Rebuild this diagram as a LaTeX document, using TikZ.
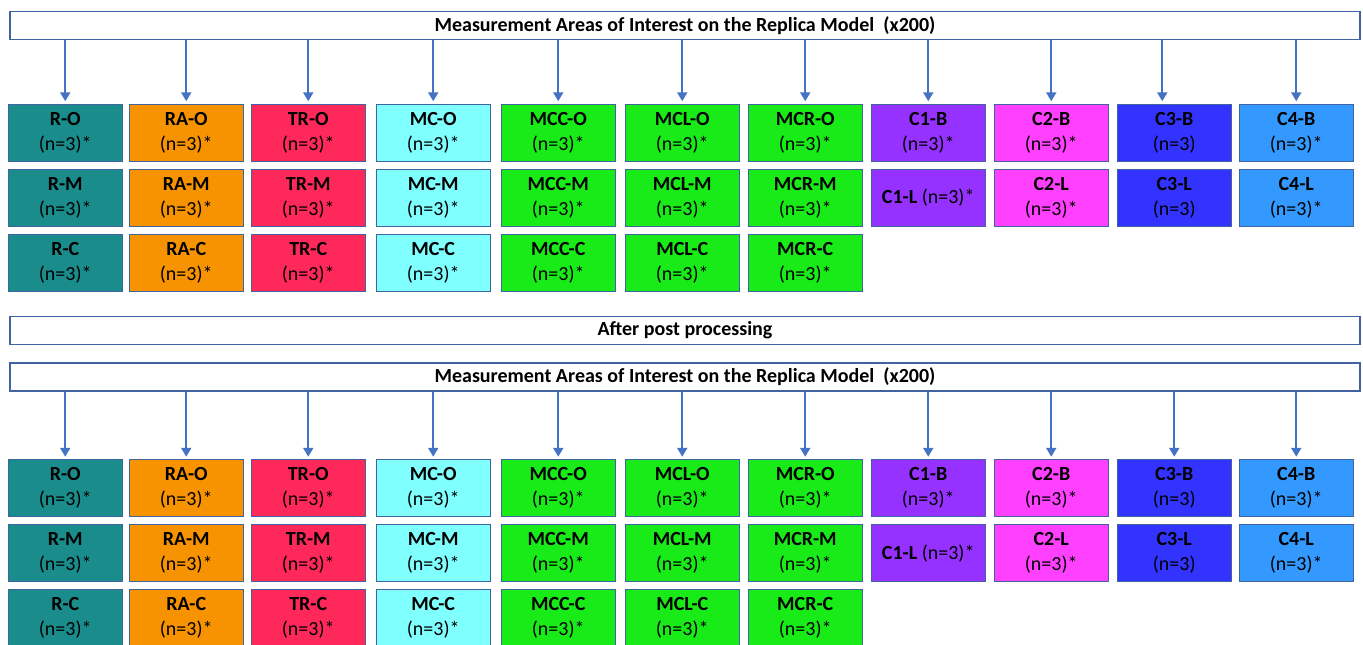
\documentclass[tikz,border=0pt]{standalone}
\usepackage{fontspec}
\setmainfont{Carlito}
\usetikzlibrary{positioning,arrows.meta}

\definecolor{boxedge}{RGB}{65,100,160}
\definecolor{arrowblue}{RGB}{68,114,196}
\definecolor{rteal}{RGB}{26,140,140}
\definecolor{raorange}{RGB}{247,147,0}
\definecolor{trred}{RGB}{255,40,90}
\definecolor{mccyan}{RGB}{128,255,255}
\definecolor{mgreen}{RGB}{25,235,25}
\definecolor{cpurple}{RGB}{150,50,255}
\definecolor{cpink}{RGB}{255,64,255}
\definecolor{cblue}{RGB}{51,51,255}
\definecolor{clightblue}{RGB}{51,153,255}

\tikzset{
  areabox/.style={draw=boxedge, line width=1.4pt, rectangle, minimum width=114pt, minimum height=57pt,
    inner sep=0pt, outer sep=0pt, align=center, font=\fontsize{20}{25}\selectfont},
  barbox/.style={draw=boxedge, line width=1.5pt, rectangle, fill=white, minimum width=1350pt, minimum height=28pt,
    inner sep=0pt, font=\fontsize{20}{25}\selectfont\bfseries},
  feed/.style={-{Triangle[length=9pt,width=10pt]}, line width=2.4pt, draw=arrowblue, shorten >=3pt}
}

\begin{document}
\begin{tikzpicture}[x=1pt,y=-1pt]
    \useasboundingbox (0,0) rectangle (1363,645);

    % before post processing
    \node[barbox] (head) at (685,25.5) {Measurement Areas of Interest on the Replica Model\ \ (x200)};
    \node[areabox, fill=rteal, anchor=north west] (ro) at ([xshift=-1pt,yshift=-64pt]head.south west) {\textbf{R-O}\\(n=3)*};
    \node[areabox, fill=rteal, below=8pt of ro] (rm) {\textbf{R-M}\\(n=3)*};
    \node[areabox, fill=rteal, below=8pt of rm] (rc) {\textbf{R-C}\\(n=3)*};
    \node[areabox, fill=raorange, right=7pt of ro] (rao) {\textbf{RA-O}\\(n=3)*};
    \node[areabox, fill=raorange, below=8pt of rao] (ram) {\textbf{RA-M}\\(n=3)*};
    \node[areabox, fill=raorange, below=8pt of ram] (rac) {\textbf{RA-C}\\(n=3)*};
    \node[areabox, fill=trred, right=8pt of rao] (tro) {\textbf{TR-O}\\(n=3)*};
    \node[areabox, fill=trred, below=8pt of tro] (trm) {\textbf{TR-M}\\(n=3)*};
    \node[areabox, fill=trred, below=8pt of trm] (trc) {\textbf{TR-C}\\(n=3)*};
    \node[areabox, fill=mccyan, right=11pt of tro] (mco) {\textbf{MC-O}\\(n=3)*};
    \node[areabox, fill=mccyan, below=8pt of mco] (mcm) {\textbf{MC-M}\\(n=3)*};
    \node[areabox, fill=mccyan, below=8pt of mcm] (mcc) {\textbf{MC-C}\\(n=3)*};
    \node[areabox, fill=mgreen, right=11pt of mco] (mcco) {\textbf{MCC-O}\\(n=3)*};
    \node[areabox, fill=mgreen, below=8pt of mcco] (mccm) {\textbf{MCC-M}\\(n=3)*};
    \node[areabox, fill=mgreen, below=8pt of mccm] (mccc) {\textbf{MCC-C}\\(n=3)*};
    \node[areabox, fill=mgreen, right=10pt of mcco] (mclo) {\textbf{MCL-O}\\(n=3)*};
    \node[areabox, fill=mgreen, below=8pt of mclo] (mclm) {\textbf{MCL-M}\\(n=3)*};
    \node[areabox, fill=mgreen, below=8pt of mclm] (mclc) {\textbf{MCL-C}\\(n=3)*};
    \node[areabox, fill=mgreen, right=9pt of mclo] (mcro) {\textbf{MCR-O}\\(n=3)*};
    \node[areabox, fill=mgreen, below=8pt of mcro] (mcrm) {\textbf{MCR-M}\\(n=3)*};
    \node[areabox, fill=mgreen, below=8pt of mcrm] (mcrc) {\textbf{MCR-C}\\(n=3)*};
    \node[areabox, fill=cpurple, right=9pt of mcro] (c1b) {\textbf{C1-B}\\(n=3)*};
    \node[areabox, fill=cpurple, below=8pt of c1b] (c1l) {\textbf{C1-L} (n=3)*};
    \node[areabox, fill=cpink, right=9pt of c1b] (c2b) {\textbf{C2-B}\\(n=3)*};
    \node[areabox, fill=cpink, below=8pt of c2b] (c2l) {\textbf{C2-L}\\(n=3)*};
    \node[areabox, fill=cblue, right=9pt of c2b] (c3b) {\textbf{C3-B}\\(n=3)};
    \node[areabox, fill=cblue, below=8pt of c3b] (c3l) {\textbf{C3-L}\\(n=3)};
    \node[areabox, fill=clightblue, right=8pt of c3b] (c4b) {\textbf{C4-B}\\(n=3)*};
    \node[areabox, fill=clightblue, below=8pt of c4b] (c4l) {\textbf{C4-L}\\(n=3)*};
    \coordinate (c3tip) at ([xshift=-12pt]c3b.north);

    \draw[feed] (head.south -| ro.north) -- (ro.north);
    \draw[feed] (head.south -| rao.north) -- (rao.north);
    \draw[feed] (head.south -| tro.north) -- (tro.north);
    \draw[feed] (head.south -| mco.north) -- (mco.north);
    \draw[feed] (head.south -| mcco.north) -- (mcco.north);
    \draw[feed] (head.south -| mclo.north) -- (mclo.north);
    \draw[feed] (head.south -| mcro.north) -- (mcro.north);
    \draw[feed] (head.south -| c1b.north) -- (c1b.north);
    \draw[feed] (head.south -| c2b.north) -- (c2b.north);
    \draw[feed] (head.south -| c3tip) -- (c3tip);
    \draw[feed] (head.south -| c4b.north) -- (c4b.north);

    \node[barbox] (post) at (685,330.5) {After post processing};

    % after post processing
    \node[barbox] (head-pp) at (685,377) {Measurement Areas of Interest on the Replica Model\ \ (x200)};
    \node[areabox, fill=rteal, anchor=north west] (ro-pp) at ([xshift=-1pt,yshift=-68pt]head-pp.south west) {\textbf{R-O}\\(n=3)*};
    \node[areabox, fill=rteal, below=8pt of ro-pp] (rm-pp) {\textbf{R-M}\\(n=3)*};
    \node[areabox, fill=rteal, below=8pt of rm-pp] (rc-pp) {\textbf{R-C}\\(n=3)*};
    \node[areabox, fill=raorange, right=7pt of ro-pp] (rao-pp) {\textbf{RA-O}\\(n=3)*};
    \node[areabox, fill=raorange, below=8pt of rao-pp] (ram-pp) {\textbf{RA-M}\\(n=3)*};
    \node[areabox, fill=raorange, below=8pt of ram-pp] (rac-pp) {\textbf{RA-C}\\(n=3)*};
    \node[areabox, fill=trred, right=8pt of rao-pp] (tro-pp) {\textbf{TR-O}\\(n=3)*};
    \node[areabox, fill=trred, below=8pt of tro-pp] (trm-pp) {\textbf{TR-M}\\(n=3)*};
    \node[areabox, fill=trred, below=8pt of trm-pp] (trc-pp) {\textbf{TR-C}\\(n=3)*};
    \node[areabox, fill=mccyan, right=11pt of tro-pp] (mco-pp) {\textbf{MC-O}\\(n=3)*};
    \node[areabox, fill=mccyan, below=8pt of mco-pp] (mcm-pp) {\textbf{MC-M}\\(n=3)*};
    \node[areabox, fill=mccyan, below=8pt of mcm-pp] (mcc-pp) {\textbf{MC-C}\\(n=3)*};
    \node[areabox, fill=mgreen, right=11pt of mco-pp] (mcco-pp) {\textbf{MCC-O}\\(n=3)*};
    \node[areabox, fill=mgreen, below=8pt of mcco-pp] (mccm-pp) {\textbf{MCC-M}\\(n=3)*};
    \node[areabox, fill=mgreen, below=8pt of mccm-pp] (mccc-pp) {\textbf{MCC-C}\\(n=3)*};
    \node[areabox, fill=mgreen, right=10pt of mcco-pp] (mclo-pp) {\textbf{MCL-O}\\(n=3)*};
    \node[areabox, fill=mgreen, below=8pt of mclo-pp] (mclm-pp) {\textbf{MCL-M}\\(n=3)*};
    \node[areabox, fill=mgreen, below=8pt of mclm-pp] (mclc-pp) {\textbf{MCL-C}\\(n=3)*};
    \node[areabox, fill=mgreen, right=9pt of mclo-pp] (mcro-pp) {\textbf{MCR-O}\\(n=3)*};
    \node[areabox, fill=mgreen, below=8pt of mcro-pp] (mcrm-pp) {\textbf{MCR-M}\\(n=3)*};
    \node[areabox, fill=mgreen, below=8pt of mcrm-pp] (mcrc-pp) {\textbf{MCR-C}\\(n=3)*};
    \node[areabox, fill=cpurple, right=9pt of mcro-pp] (c1b-pp) {\textbf{C1-B}\\(n=3)*};
    \node[areabox, fill=cpurple, below=8pt of c1b-pp] (c1l-pp) {\textbf{C1-L} (n=3)*};
    \node[areabox, fill=cpink, right=9pt of c1b-pp] (c2b-pp) {\textbf{C2-B}\\(n=3)*};
    \node[areabox, fill=cpink, below=8pt of c2b-pp] (c2l-pp) {\textbf{C2-L}\\(n=3)*};
    \node[areabox, fill=cblue, right=9pt of c2b-pp] (c3b-pp) {\textbf{C3-B}\\(n=3)};
    \node[areabox, fill=cblue, below=8pt of c3b-pp] (c3l-pp) {\textbf{C3-L}\\(n=3)};
    \node[areabox, fill=clightblue, right=8pt of c3b-pp] (c4b-pp) {\textbf{C4-B}\\(n=3)*};
    \node[areabox, fill=clightblue, below=8pt of c4b-pp] (c4l-pp) {\textbf{C4-L}\\(n=3)*};

    \draw[feed] (head-pp.south -| ro-pp.north) -- (ro-pp.north);
    \draw[feed] (head-pp.south -| rao-pp.north) -- (rao-pp.north);
    \draw[feed] (head-pp.south -| tro-pp.north) -- (tro-pp.north);
    \draw[feed] (head-pp.south -| mco-pp.north) -- (mco-pp.north);
    \draw[feed] (head-pp.south -| mcco-pp.north) -- (mcco-pp.north);
    \draw[feed] (head-pp.south -| mclo-pp.north) -- (mclo-pp.north);
    \draw[feed] (head-pp.south -| mcro-pp.north) -- (mcro-pp.north);
    \draw[feed] (head-pp.south -| c1b-pp.north) -- (c1b-pp.north);
    \draw[feed] (head-pp.south -| c2b-pp.north) -- (c2b-pp.north);
    \draw[feed] (head-pp.south -| c3b-pp.north) -- (c3b-pp.north);
    \draw[feed] (head-pp.south -| c4b-pp.north) -- (c4b-pp.north);
\end{tikzpicture}
\end{document}
